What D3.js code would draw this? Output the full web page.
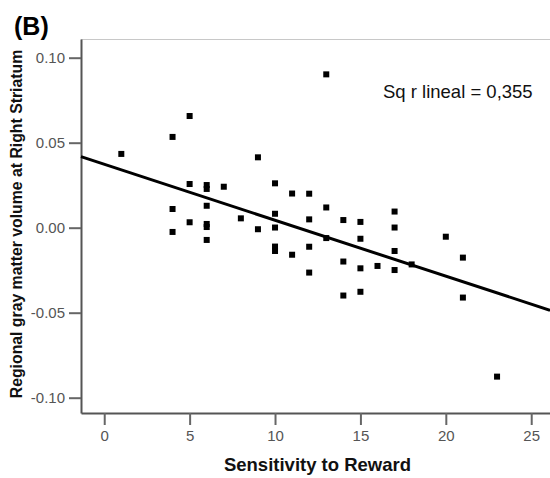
<!DOCTYPE html>
<html>
<head>
<meta charset="utf-8">
<script src="https://cdn.jsdelivr.net/npm/d3@7"></script>
<style>
  body { margin: 0; background: #fff; }
  svg { display: block; font-family: "Liberation Sans", Arial, sans-serif; }
</style>
</head>
<body>
<svg id="chart"></svg>
<script>
// Sensitivity to Reward (x) vs regional gray matter volume (y)
const sensitivity = [1, 4, 4, 4, 5, 5, 5, 6, 6, 6, 6, 6, 6, 7, 8, 9, 9,
  10, 10, 10, 10, 10, 11, 11, 12, 12, 12, 12, 13, 13, 13, 14, 14, 14,
  15, 15, 15, 15, 16, 17, 17, 17, 17, 18, 20, 21, 21, 23];
const grayVolume = [0.0434, 0.0534, 0.0110, -0.0025, 0.0657, 0.0257, 0.0032,
  0.0251, 0.0228, 0.0129, 0.0022, 0.0004, -0.0072, 0.0241, 0.0055, 0.0414, -0.0009,
  0.0261, 0.0082, 0.0001, -0.0111, -0.0137, 0.0201, -0.0159, 0.0200, 0.0049, -0.0112, -0.0264,
  0.0902, 0.0119, -0.0061, 0.0045, -0.0199, -0.0399,
  0.0034, -0.0065, -0.0239, -0.0377, -0.0225, 0.0095, 0.0001, -0.0137, -0.0249,
  -0.0216, -0.0053, -0.0176, -0.0411, -0.0876];
const xTicks = [0, 5, 10, 15, 20, 25];
const yTicks = [-0.10, -0.05, 0.00, 0.05, 0.10];
const fit = { intercept: 0.0373, slope: -0.00329, r2: '0,355' };

const points = sensitivity.map((s, i) => ({ x: s, y: grayVolume[i] }));

const W = 550, H = 478;
const plot = { left: 81, right: 550, top: 39, bottom: 413 };

const svg = d3.select('#chart').attr('width', W).attr('height', H);

const x = d3.scaleLinear().domain([-1.36, 26.1]).range([plot.left, plot.right]);
const y = d3.scaleLinear().domain([-0.109, 0.111]).range([plot.bottom, plot.top]);

// top frame line
svg.append('line')
   .attr('x1', plot.left).attr('x2', plot.right)
   .attr('y1', plot.top + 0.5).attr('y2', plot.top + 0.5)
   .attr('stroke', '#c8c8c8').attr('stroke-width', 1);

// X axis
const xAxis = svg.append('g')
   .attr('transform', `translate(0,${plot.bottom})`)
   .call(d3.axisBottom(x).tickValues(xTicks).tickSize(12).tickSizeOuter(0).tickPadding(5));

// Y axis (plain hyphen for negatives, like the original)
const yAxis = svg.append('g')
   .attr('transform', `translate(${plot.left},0)`)
   .call(d3.axisLeft(y).tickValues(yTicks).tickSize(12).tickSizeOuter(0).tickPadding(4)
     .tickFormat(d => d.toFixed(2)));

[xAxis, yAxis].forEach(g => {
  g.select('.domain').attr('stroke', '#555').attr('stroke-width', 2);
  g.selectAll('.tick line').attr('stroke', '#666').attr('stroke-width', 2);
  g.selectAll('.tick text')
   .attr('fill', '#555')
   .style('font-family', '"Liberation Sans", Arial, sans-serif')
   .style('font-size', '15px');
});

// regression line
svg.append('line')
   .attr('x1', x(x.domain()[0])).attr('y1', y(fit.intercept + fit.slope * x.domain()[0]))
   .attr('x2', x(x.domain()[1])).attr('y2', y(fit.intercept + fit.slope * x.domain()[1]))
   .attr('stroke', '#000').attr('stroke-width', 3);

// points
svg.selectAll('.pt')
   .data(points)
   .enter()
   .append('rect')
   .attr('class', 'pt')
   .attr('x', d => x(d.x) - 3)
   .attr('y', d => y(d.y) - 3)
   .attr('width', 6)
   .attr('height', 6)
   .attr('fill', '#000');

// R squared label
svg.append('text')
   .attr('x', 383).attr('y', 98)
   .style('font-size', '18.5px')
   .attr('fill', '#111')
   .text(`Sq r lineal = ${fit.r2}`);

// axis titles
svg.append('text')
   .attr('x', (plot.left + plot.right) / 2 + 2)
   .attr('y', 471)
   .attr('text-anchor', 'middle')
   .style('font-size', '18.5px')
   .style('font-weight', 'bold')
   .attr('fill', '#111')
   .text('Sensitivity to Reward');

svg.append('text')
   .attr('transform', 'translate(22,224) rotate(-90)')
   .attr('text-anchor', 'middle')
   .style('font-size', '15.8px')
   .style('font-weight', 'bold')
   .attr('fill', '#111')
   .text('Regional gray matter volume at Right Striatum');

// panel label
svg.append('text')
   .attr('x', 14).attr('y', 35)
   .style('font-size', '25px')
   .style('font-weight', 'bold')
   .attr('fill', '#000')
   .text('(B)');
</script>
</body>
</html>
